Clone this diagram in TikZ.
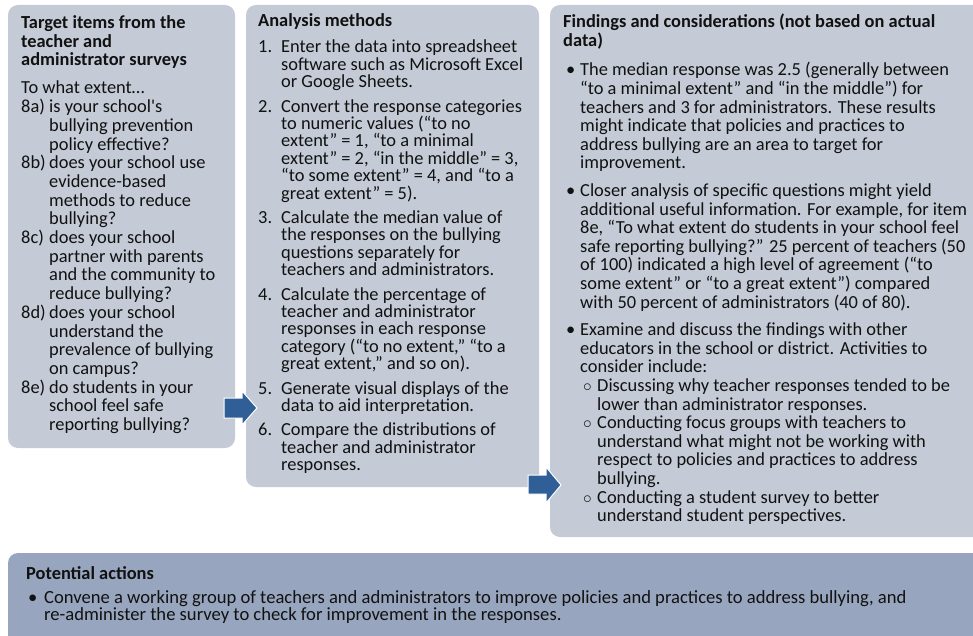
\documentclass[tikz,border=0pt]{standalone}
\usepackage{fontspec}
\setmainfont{Carlito}[Ligatures=TeXOff]
\definecolor{boxfill}{HTML}{C4CBD6}
\definecolor{actfill}{HTML}{97A6BE}
\definecolor{arrowblue}{HTML}{2F5F96}
\definecolor{txt}{HTML}{111111}
\newcommand{\setbody}[1]{\fontsize{18.4pt}{#1}\selectfont\lineskiplimit=-100pt\lineskip=0pt}
\newcommand{\itm}[2]{\par\hangindent=#1\hangafter=1\noindent\makebox[#1][l]{#2}}
\newcommand{\subitm}{\par\hangindent=34pt\hangafter=1\noindent\hspace*{20pt}\makebox[14pt][l]{$\circ$}}
\newcommand{\gapp}[1]{\par\vskip#1\relax}
\newcommand{\blk}[2]{\vtop{\hsize=440pt\parindent=0pt\parskip=0pt\raggedright\let\\\newline\setbody{#1}#2\par}}
\tikzset{
  panel/.style={fill=boxfill, rounded corners=10pt},
  actpanel/.style={fill=actfill, rounded corners=10pt},
  bigarrow/.style={fill=arrowblue, draw=white, line width=1pt, line join=miter},
  txtblock/.style={anchor=base west, inner sep=0pt, text=txt}
}
\begin{document}
\begin{tikzpicture}[x=1pt,y=-1pt]
\useasboundingbox (0,0) rectangle (973,636);
\clip (0,0) rectangle (973,636);
\fill[white] (0,0) rectangle (973,636);
% panels
\fill[panel] (8,5) rectangle (235,448);
\fill[panel] (246,5) rectangle (539,487);
\fill[panel] (550,5) rectangle (990,537);
\fill[actpanel] (8,553) rectangle (990,660);

% box 1
\node[txtblock] (t1) at (21,29) {\blk{18.5pt}{\bfseries Target items from the\\teacher and\\administrator surveys}};
\node[txtblock] (b1) at (21,94) {\blk{18.7pt}{%
To what extent…
\itm{28pt}{8a)}is your school's\\bullying prevention\\policy effective?
\itm{28pt}{8b)}does your school use\\evidence-based\\methods to reduce\\bullying?
\itm{28pt}{8c)}does your school\\partner with parents\\and the community to\\reduce bullying?
\itm{28pt}{8d)}does your school\\understand the\\prevalence of bullying\\on campus?
\itm{28pt}{8e)}do students in your\\school feel safe\\reporting bullying?}};

% box 2
\node[txtblock] (t2) at (258,27) {\blk{17.4pt}{\bfseries Analysis methods}};
\node[txtblock] (b2) at (258,53) {\blk{17.4pt}{%
\itm{23pt}{1.}Enter the data into spreadsheet\\software such as Microsoft Excel\\or Google Sheets.
\gapp{7pt}\itm{23pt}{2.}Convert the response categories\\to numeric values (“to no\\extent” = 1, “to a minimal\\extent” = 2, “in the middle” = 3,\\“to some extent” = 4, and “to a\\great extent” = 5).
\gapp{7pt}\itm{23pt}{3.}Calculate the median value of\\the responses on the bullying\\questions separately for\\teachers and administrators.
\gapp{7pt}\itm{23pt}{4.}Calculate the percentage of\\teacher and administrator\\responses in each response\\category (“to no extent,” “to a\\great extent,” and so on).
\gapp{7pt}\itm{23pt}{5.}Generate visual displays of the\\data to aid interpretation.
\gapp{7pt}\itm{23pt}{6.}Compare the distributions of\\teacher and administrator\\responses.}};

% box 3
\node[txtblock] (t3) at (563,28) {\blk{18.5pt}{\bfseries Findings and considerations (not based on actual\\data)}};
\node[txtblock] (b3) at (563,76) {\blk{18.6pt}{%
\itm{17pt}{\hspace{3pt}•}The median response was 2.5 (generally between\\“to a minimal extent” and “in the middle”) for\\teachers and 3 for administrators. These results\\might indicate that policies and practices to\\address bullying are an area to target for\\improvement.
\gapp{9pt}\itm{17pt}{\hspace{3pt}•}Closer analysis of specific questions might yield\\additional useful information. For example, for item\\8e, “To what extent do students in your school feel\\safe reporting bullying?” 25 percent of teachers (50\\of 100) indicated a high level of agreement (“to\\some extent” or “to a great extent”) compared\\with 50 percent of administrators (40 of 80).
\gapp{9pt}\itm{17pt}{\hspace{3pt}•}Examine and discuss the findings with other\\educators in the school or district. Activities to\\consider include:
\subitm Discussing why teacher responses tended to be\\lower than administrator responses.
\subitm Conducting focus groups with teachers to\\understand what might not be working with\\respect to policies and practices to address\\bullying.
\subitm Conducting a student survey to better\\understand student perspectives.}};

% bottom box
\node[txtblock] (t4) at (26,579) {\blk{16pt}{\bfseries Potential actions}};
\node[txtblock] (b4) at (26,603) {\vtop{\hsize=940pt\parindent=0pt\raggedright\let\\\newline\fontsize{18.6pt}{17.5pt}\selectfont\lineskiplimit=-100pt
\hangindent=18pt\hangafter=1\noindent\makebox[18pt][l]{\hspace{2pt}•}Convene a working group of teachers and administrators to improve policies and practices to address bullying, and\\re-administer the survey to check for improvement in the responses.\par}};

% arrows
\draw[bigarrow] (224,398) -- (242,398) -- (242,391) -- (257,408) -- (242,425) -- (242,418) -- (224,418) -- cycle;
\draw[bigarrow] (528,475) -- (546,475) -- (546,467) -- (561,485) -- (546,503) -- (546,494) -- (528,494) -- cycle;
\end{tikzpicture}
\end{document}
